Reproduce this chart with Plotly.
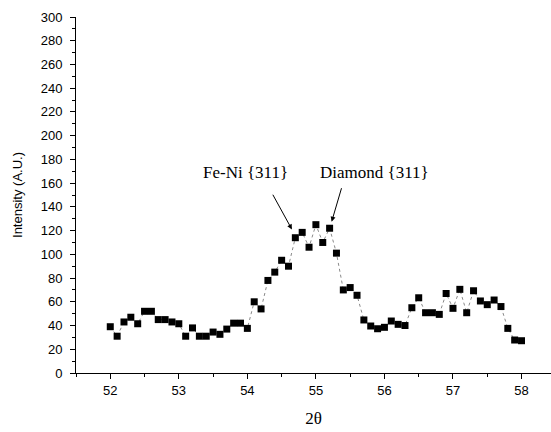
import plotly.graph_objects as go

two_theta = [round(52.0 + 0.1 * i, 1) for i in range(61)]
intensity = [
    39, 31, 43, 47, 41.5, 52, 52, 45, 45, 43,
    41.5, 31, 38, 31, 31, 34.5, 32.6, 37, 42, 42,
    37.6, 60, 54, 78, 85, 95, 90, 114, 118.5, 106,
    125, 110, 122, 101, 70, 72, 65.5, 44.7, 39.6, 37.3,
    38.5, 43.8, 41, 40, 55, 63.4, 50.8, 50.8, 49.4, 67,
    54.5, 70.5, 50.8, 69.3, 60.7, 57.6, 61.5, 56, 37.6, 27.8,
    27.2,
]

x_ticks = [52, 53, 54, 55, 56, 57, 58]
y_ticks = list(range(0, 301, 20))

fig = go.Figure()
fig.add_trace(go.Scatter(
    x=two_theta, y=intensity, mode="lines+markers",
    line=dict(color="#8a8a8a", width=1, dash="dot"),
    marker=dict(symbol="square", size=7, color="black"),
    showlegend=False,
))

serif = "Liberation Serif, Times New Roman, serif"
sans = "Liberation Sans, Arial, sans-serif"

fig.add_annotation(x=53.97, y=169, xref="x", yref="y", text="Fe-Ni {311}",
                   showarrow=False, font=dict(family=serif, size=17, color="black"))
fig.add_annotation(x=55.85, y=169, xref="x", yref="y", text="Diamond {311}",
                   showarrow=False, font=dict(family=serif, size=17, color="black"))
fig.add_annotation(x=54.65, y=121, ax=54.36, ay=151.5, xref="x", yref="y",
                   axref="x", ayref="y", text="", showarrow=True,
                   arrowhead=2, arrowsize=1, arrowwidth=1, arrowcolor="black")
fig.add_annotation(x=55.23, y=127.5, ax=55.38, ay=157, xref="x", yref="y",
                   axref="x", ayref="y", text="", showarrow=True,
                   arrowhead=2, arrowsize=1, arrowwidth=1, arrowcolor="black")

fig.update_layout(
    width=551, height=432,
    margin=dict(l=76, r=0, t=17, b=59, autoexpand=False),
    paper_bgcolor="white", plot_bgcolor="white",
    font=dict(family=sans, size=13, color="black"),
    xaxis=dict(
        range=[51.5, 58.43], tickvals=x_ticks, ticktext=[str(v) for v in x_ticks],
        automargin=False,
        showgrid=False, zeroline=False, showline=True, linecolor="black", linewidth=1,
        ticks="outside", ticklen=5, tickcolor="black",
        minor=dict(dtick=0.5, ticks="outside", ticklen=3, tickcolor="black"),
        title=dict(text="2θ", font=dict(family=serif, size=17)),
        tickfont=dict(family=sans, size=13),
    ),
    yaxis=dict(
        range=[0, 300], tickvals=y_ticks, ticktext=[str(v) for v in y_ticks],
        automargin=False, ticklabelstandoff=5,
        showgrid=False, zeroline=False, showline=True, linecolor="black", linewidth=1,
        ticks="outside", ticklen=5, tickcolor="black",
        minor=dict(dtick=10, ticks="outside", ticklen=3, tickcolor="black"),
        title=dict(text="Intensity (A.U.)", font=dict(family=sans, size=13)),
        tickfont=dict(family=sans, size=13),
    ),
)

fig.write_html(
    "out.html",
    config={"displayModeBar": False},
    post_script="document.body.style.margin='0';document.body.style.overflow='hidden';",
)
